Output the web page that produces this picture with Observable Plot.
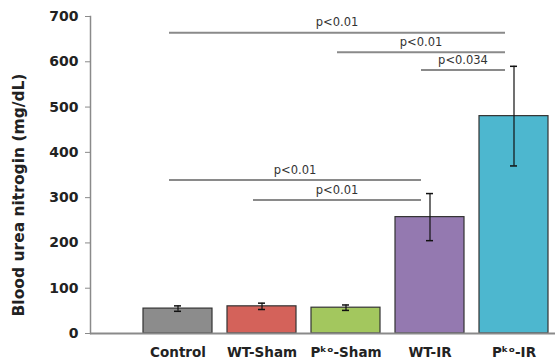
<!DOCTYPE html>
<html>
<head>
<meta charset="utf-8">
<script src="https://cdn.jsdelivr.net/npm/d3@7"></script>
<script src="https://cdn.jsdelivr.net/npm/@observablehq/plot@0.6"></script>
<style>
  html, body { margin: 0; padding: 0; background: #fff; }
</style>
</head>
<body>
<div id="chart"></div>
<script>
const groups = ["Control", "WT-Sham", "Pᵏᵒ-Sham", "WT-IR", "Pᵏᵒ-IR"];
const means = [55, 60, 57, 257, 480];
const errors = [6, 7, 6, 52, 110];
const colors = ["#8c8c8c", "#d4625a", "#a3c75e", "#9479b0", "#4db7cf"];
const yTicks = [0, 100, 200, 300, 400, 500, 600, 700];

const cmpFrom = ["Control", "Pᵏᵒ-Sham", "WT-IR", "Control", "WT-Sham"];
const cmpTo = ["Pᵏᵒ-IR", "Pᵏᵒ-IR", "Pᵏᵒ-IR", "WT-IR", "WT-IR"];
const cmpY = [664, 621, 582, 339, 295];
const cmpLabels = ["p<0.01", "p<0.01", "p<0.034", "p<0.01", "p<0.01"];

const data = groups.map((g, i) => ({group: g, mean: means[i], err: errors[i], color: colors[i]}));
const cmps = cmpFrom.map((f, i) => ({from: f, to: cmpTo[i], y: cmpY[i], label: cmpLabels[i]}));

const chart = Plot.plot({
  width: 558,
  height: 359,
  marginTop: 16,
  marginBottom: 26,
  marginLeft: 90,
  marginRight: 3,
  style: {fontFamily: "DejaVu Sans", background: "#fff", color: "#222"},
  x: {domain: groups, range: [135, 555], paddingInner: 0.18, paddingOuter: 0.09, label: null},
  y: {domain: [0, 700], label: null},
  marks: [
    Plot.frame({anchor: "left", stroke: "#8a8a8a", strokeWidth: 1.5}),
    Plot.axisY({ticks: yTicks, tickSize: 5, tickPadding: 7, fontSize: 14, fontWeight: "bold", stroke: "#8a8a8a", label: null}),
    Plot.axisX({tickSize: 0, tickPadding: 14, fontSize: 13.5, fontWeight: "bold", label: null}),
    Plot.barY(data, {x: "group", y: "mean", fill: "color", stroke: "#333", strokeWidth: 1.2}),
    Plot.ruleX(data, {x: "group", y1: d => d.mean - d.err, y2: d => d.mean + d.err, stroke: "#111", strokeWidth: 1.2}),
    Plot.tickY(data, {x: "group", y: d => d.mean + d.err, stroke: "#111", strokeWidth: 1.5, insetLeft: 31, insetRight: 31}),
    Plot.tickY(data, {x: "group", y: d => d.mean - d.err, stroke: "#111", strokeWidth: 1.5, insetLeft: 31, insetRight: 31}),
    Plot.ruleY([0], {stroke: "#8a8a8a", strokeWidth: 2}),
    Plot.link(cmps, {x1: "from", x2: "to", y1: "y", y2: "y", dx: -9, stroke: "#8a8a8a", strokeWidth: 2}),
    Plot.text(cmps, {
      x: "from", y: "y", text: "label", dy: -10, dx: -9, fontSize: 11.5, fill: "#333",
      render(index, scales, values, dimensions, context, next) {
        const X = Float64Array.from(cmps, d => (scales.x(d.from) + scales.x(d.to)) / 2);
        return next(index, scales, {...values, x: X}, dimensions, context);
      }
    }),
    Plot.text(["Blood urea nitrogin (mg/dL)"], {frameAnchor: "left", textAnchor: "middle", rotate: -90, dx: -71, dy: 20, fontSize: 15.5, fontWeight: "bold", fill: "#222"})
  ]
});
document.getElementById("chart").appendChild(chart);
</script>
</body>
</html>
